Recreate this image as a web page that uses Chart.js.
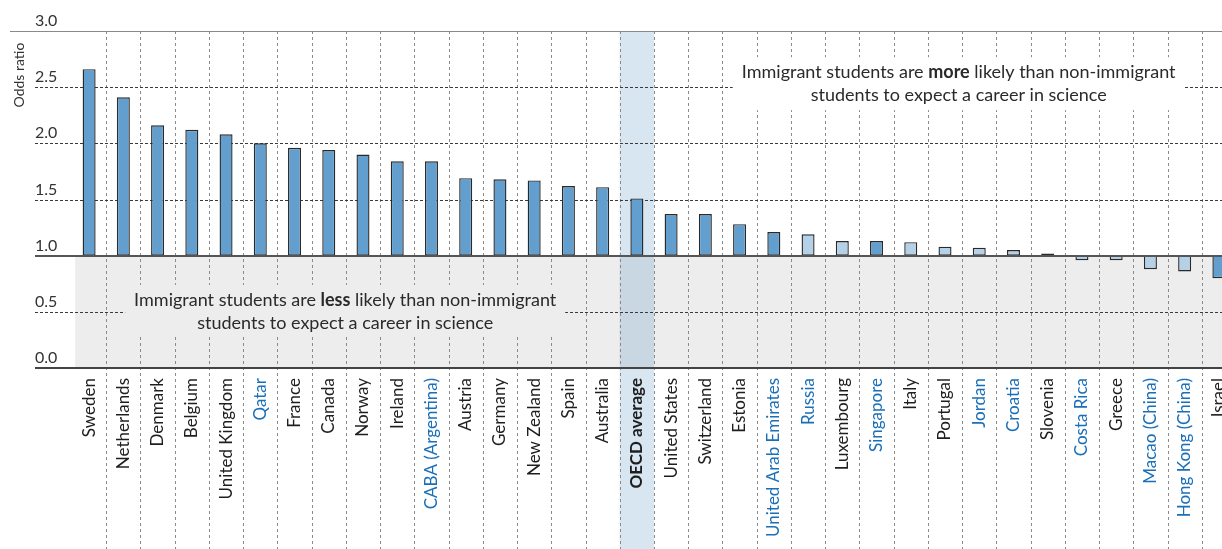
<!DOCTYPE html>
<html>
<head>
<meta charset="utf-8">
<script src="https://cdn.jsdelivr.net/npm/chart.js@4.4.1/dist/chart.umd.min.js"></script>
<style>
  html, body { margin: 0; padding: 0; background: #fff; overflow: hidden; }
  #wrap { width: 1250px; height: 549px; position: relative; }
</style>
</head>
<body>
<div id="wrap"><canvas id="oddsChart"></canvas></div>
<script>
const countries = ['Sweden', 'Netherlands', 'Denmark', 'Belgium', 'United Kingdom', 'Qatar', 'France',
  'Canada', 'Norway', 'Ireland', 'CABA (Argentina)', 'Austria', 'Germany', 'New Zealand', 'Spain',
  'Australia', 'OECD average', 'United States', 'Switzerland', 'Estonia', 'United Arab Emirates',
  'Russia', 'Luxembourg', 'Singapore', 'Italy', 'Portugal', 'Jordan', 'Croatia', 'Slovenia',
  'Costa Rica', 'Greece', 'Macao (China)', 'Hong Kong (China)', 'Israel'];

const oddsRatio = [2.66, 2.41, 2.16, 2.12, 2.08, 2.00, 1.96, 1.94, 1.90, 1.84, 1.84, 1.69, 1.68, 1.67,
  1.62, 1.61, 1.51, 1.37, 1.37, 1.28, 1.21, 1.19, 1.13, 1.13, 1.12, 1.08, 1.07, 1.05, 1.02, 0.96,
  0.96, 0.88, 0.86, 0.80];

// dark bar = significant difference
const significant = [1, 1, 1, 1, 1, 1, 1, 1, 1, 1, 1, 1, 1, 1, 1, 1, 1, 1, 1, 1, 1, 0, 0, 1, 0, 0,
  0, 0, 1, 0, 0, 0, 0, 1];

// blue label = partner economy
const partners = ['Qatar', 'CABA (Argentina)', 'United Arab Emirates', 'Russia', 'Singapore', 'Jordan',
  'Croatia', 'Costa Rica', 'Macao (China)', 'Hong Kong (China)'];

const yTicks = [0, 0.5, 1, 1.5, 2, 2.5, 3];
const dashedTicks = [0.5, 1.5, 2, 2.5];

const fontFamily = 'Lato, "Noto Sans", sans-serif';
const oecdIndex = countries.indexOf('OECD average');

function hline(ctx, x0, x1, yy) {
  ctx.beginPath(); ctx.moveTo(x0, yy); ctx.lineTo(x1, yy); ctx.stroke();
}

function drawNote(ctx, cx, cy, first, boldWord, rest, second) {
  ctx.textBaseline = 'middle';
  ctx.textAlign = 'left';
  const normal = '18px ' + fontFamily;
  const bold = 'bold 18px ' + fontFamily;
  ctx.font = normal;
  const w1 = ctx.measureText(first).width;
  const w3 = ctx.measureText(rest).width;
  ctx.font = bold;
  const w2 = ctx.measureText(boldWord).width;
  let sx = cx - (w1 + w2 + w3) / 2;
  ctx.fillStyle = '#2a2a2a';
  ctx.font = normal; ctx.fillText(first, sx, cy);
  ctx.font = bold; ctx.fillText(boldWord, sx + w1, cy);
  ctx.font = normal; ctx.fillText(rest, sx + w1 + w2, cy);
  ctx.textAlign = 'center';
  ctx.fillText(second, cx, cy + 23);
}

const backdrop = {
  id: 'backdrop',
  beforeDraw(chart) {
    const { ctx, chartArea: a, scales: { x, y } } = chart;
    const H = chart.height, W = chart.width;
    const half = (x.getPixelForValue(1) - x.getPixelForValue(0)) / 2;
    const y0 = y.getPixelForValue(0), y1 = y.getPixelForValue(1);
    ctx.save();

    // grey zone below 1.0
    ctx.fillStyle = '#ededed';
    ctx.fillRect(x.getPixelForValue(0) - 14, y1, W, y0 - y1);

    // OECD average band
    const bx = x.getPixelForValue(oecdIndex) - half;
    ctx.fillStyle = '#d8e6f2';
    ctx.fillRect(bx, a.top, half * 2, H - a.top);
    ctx.fillStyle = '#c9d7e2';
    ctx.fillRect(bx, y1, half * 2, y0 - y1);

    // vertical dashed separators
    ctx.strokeStyle = '#8a8a8a';
    ctx.lineWidth = 1;
    ctx.setLineDash([3, 3]);
    for (let i = 0; i < countries.length; i++) {
      const gx = Math.round(x.getPixelForValue(i) + half) + 0.5;
      ctx.beginPath(); ctx.moveTo(gx, a.top); ctx.lineTo(gx, H); ctx.stroke();
    }

    // horizontal dashed gridlines
    ctx.strokeStyle = '#3a3a3a';
    ctx.setLineDash([3, 2]);
    dashedTicks.forEach(v => hline(ctx, 35, W, Math.round(y.getPixelForValue(v)) + 0.5));
    ctx.setLineDash([]);

    // note boxes
    const moreX = x.getPixelForValue(25.4), moreY = y.getPixelForValue(2.5);
    ctx.fillStyle = '#fff';
    ctx.fillRect(moreX - 226, moreY - 30, 452, 53);
    const lessX = x.getPixelForValue(7.48), lessY = y.getPixelForValue(0.5);
    ctx.fillStyle = '#ededed';
    ctx.fillRect(lessX - 220, lessY - 27, 440, 50);

    drawNote(ctx, moreX, moreY - 15, 'Immigrant students are ', 'more', ' likely than non-immigrant',
      'students to expect a career in science');
    drawNote(ctx, lessX, lessY - 12, 'Immigrant students are ', 'less', ' likely than non-immigrant',
      'students to expect a career in science');

    // y tick labels
    ctx.fillStyle = '#333';
    ctx.font = '16px ' + fontFamily;
    ctx.textAlign = 'left';
    ctx.textBaseline = 'alphabetic';
    yTicks.forEach(v => ctx.fillText(v.toFixed(1), 35, y.getPixelForValue(v) - 5));

    // axis title
    ctx.save();
    ctx.translate(19, 75);
    ctx.rotate(-Math.PI / 2);
    ctx.textAlign = 'center';
    ctx.textBaseline = 'middle';
    ctx.font = '14px ' + fontFamily;
    ctx.fillText('Odds ratio', 0, 0);
    ctx.restore();

    ctx.restore();
  },
  afterDatasetsDraw(chart) {
    const { ctx, scales: { y } } = chart;
    const W = chart.width;
    ctx.save();
    ctx.strokeStyle = '#8a8a8a';
    ctx.lineWidth = 1;
    hline(ctx, 10, W, Math.round(y.getPixelForValue(3)) + 0.5);
    ctx.strokeStyle = '#555';
    ctx.lineWidth = 2;
    hline(ctx, 35, W, Math.round(y.getPixelForValue(1)));
    ctx.strokeStyle = '#444';
    hline(ctx, 35, W, Math.round(y.getPixelForValue(0)));
    ctx.restore();
  }
};

const data = {
  labels: countries,
  datasets: [{
    label: 'Odds ratio',
    data: oddsRatio,
    base: 1,
    backgroundColor: significant.map(s => s ? '#639fce' : '#b5d1e8'),
    borderColor: '#2a2a2a',
    borderWidth: 1.4,
    borderSkipped: false,
    barPercentage: 0.38,
    categoryPercentage: 1
  }]
};

const config = {
  type: 'bar',
  data: data,
  options: {
    responsive: true,
    maintainAspectRatio: false,
    animation: false,
    layout: { padding: { left: 72, top: 31, right: 14, bottom: 0 } },
    plugins: {
      legend: { display: false },
      tooltip: { enabled: false }
    },
    scales: {
      x: {
        grid: { display: false, drawTicks: false },
        border: { display: false },
        afterFit: (scale) => { scale.height = 181; },
        ticks: {
          autoSkip: false,
          minRotation: 90,
          maxRotation: 90,
          padding: 10,
          color: (c) => partners.includes(countries[c.index]) ? '#1a6fb8' : '#1e1e1e',
          font: (c) => ({ size: 17, family: fontFamily, weight: c.index === oecdIndex ? 'bold' : 'normal' })
        }
      },
      y: {
        display: false,
        min: 0,
        max: 3
      }
    }
  },
  plugins: [backdrop]
};

new Chart(document.getElementById('oddsChart').getContext('2d'), config);
</script>
</body>
</html>
